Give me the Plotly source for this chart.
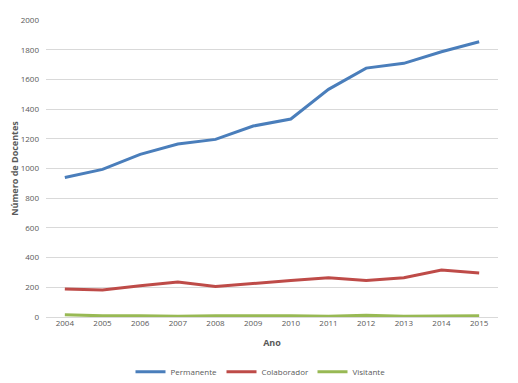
import plotly.graph_objects as go

anos = [2004, 2005, 2006, 2007, 2008, 2009, 2010, 2011, 2012, 2013, 2014, 2015]
permanente = [940, 994, 1095, 1165, 1196, 1286, 1333, 1533, 1676, 1708, 1786, 1854]
colaborador = [189, 182, 210, 236, 205, 227, 245, 265, 245, 265, 316, 296]
visitante = [15, 8, 8, 5, 8, 10, 8, 5, 12, 5, 8, 8]

y_ticks = [0, 200, 400, 600, 800, 1000, 1200, 1400, 1600, 1800, 2000]

series = [
    ("Permanente", permanente, "#4a7ebb"),
    ("Colaborador", colaborador, "#be4b48"),
    ("Visitante", visitante, "#98b954"),
]

fig = go.Figure()
for name, vals, color in series:
    fig.add_trace(go.Scatter(x=anos, y=vals, mode="lines", name=name,
                             line=dict(color=color, width=3)))

font_color = "#595959"
fig.update_layout(
    width=518, height=383,
    margin=dict(l=38, r=28, t=12, b=74),
    paper_bgcolor="white", plot_bgcolor="white",
    font=dict(family="Open Sans, Lato, sans-serif", size=8, color=font_color),
    showlegend=True,
    legend=dict(orientation="h", x=0.5, xanchor="center", xref="container",
                y=0.05, yanchor="middle", yref="container",
                entrywidth=46, entrywidthmode="pixels",
                font=dict(size=8, color=font_color)),
    xaxis=dict(
        range=[2003.5, 2015.5], tickmode="array", tickvals=anos,
        ticktext=[str(a) for a in anos], showgrid=False, zeroline=False,
        showline=False, ticks="", automargin=False,
        title=dict(text="<b>Ano</b>", font=dict(size=9, color=font_color), standoff=12),
    ),
    yaxis=dict(
        range=[0, 2000], tickmode="array", tickvals=y_ticks,
        showgrid=True, gridcolor="#d9d9d9", gridwidth=1, zeroline=True,
        zerolinecolor="#d9d9d9", zerolinewidth=1, ticks="", ticklabelstandoff=6,
        automargin=False,
        title=dict(text="<b>Número de Docentes</b>", font=dict(size=9, color=font_color), standoff=9),
    ),
)

fig.write_html("out.html")
